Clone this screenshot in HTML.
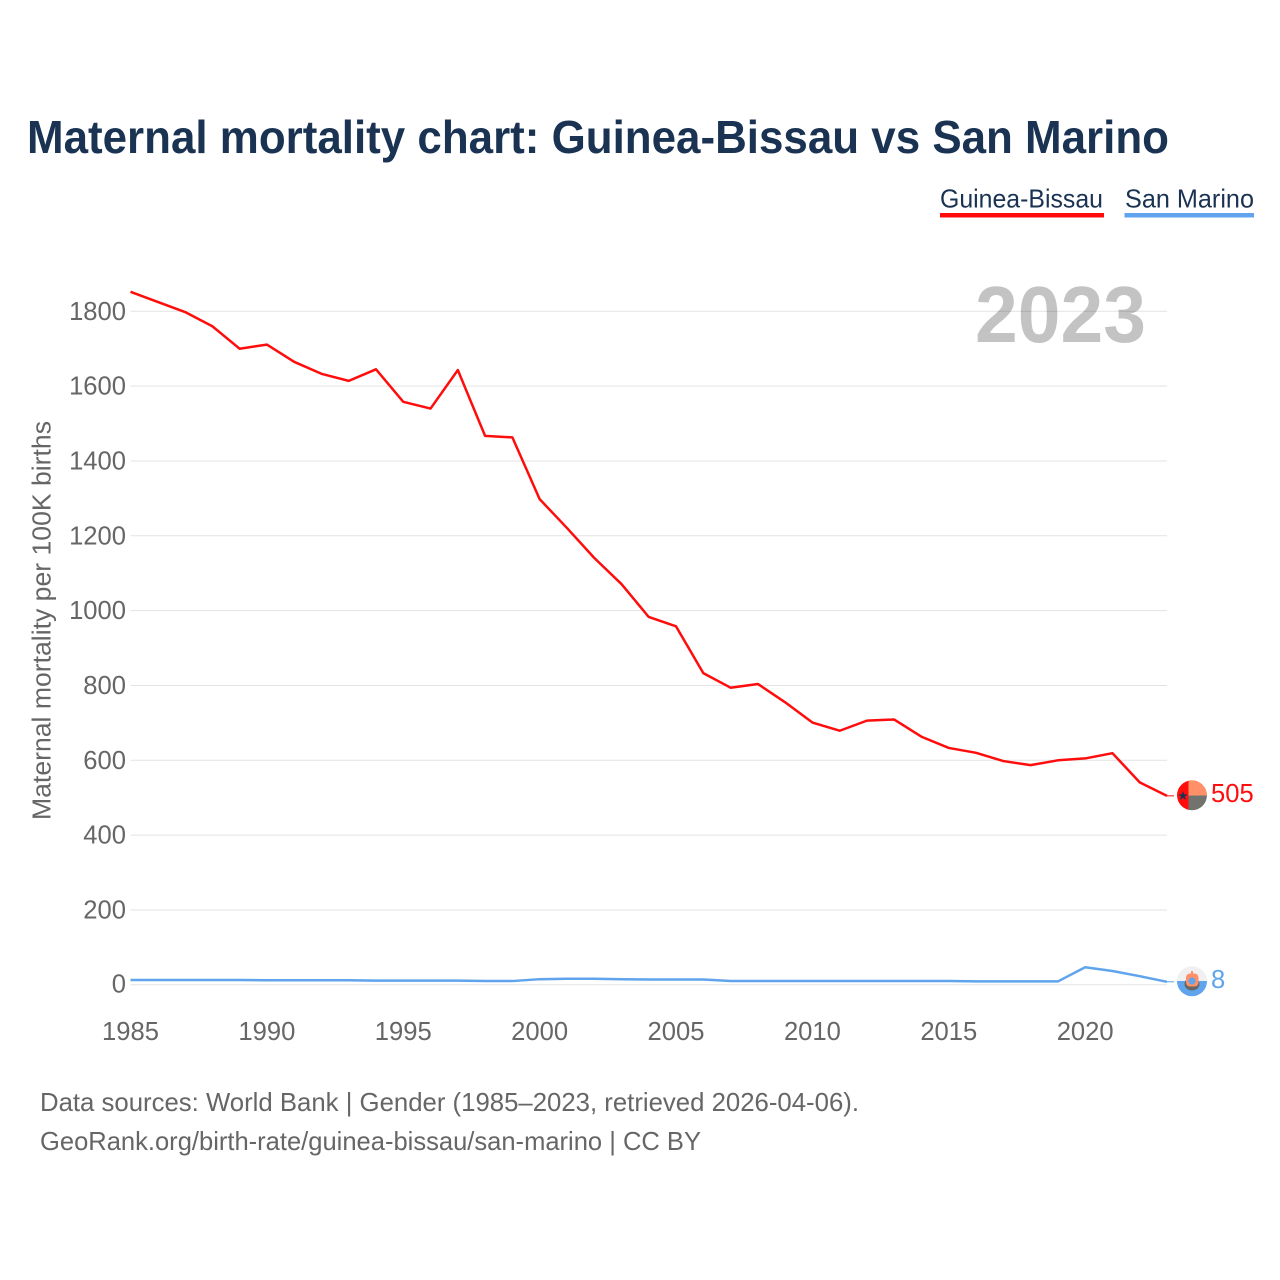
<!DOCTYPE html>
<html lang="en">
<head>
<meta charset="utf-8">
<title>Maternal mortality chart: Guinea-Bissau vs San Marino</title>
<style>
html,body{margin:0;padding:0;background:#fff;}
svg{display:block;font-family:"Liberation Sans",sans-serif;}
</style>
</head>
<body>
<svg id="chart" width="1280" height="1280" viewBox="0 0 1280 1280" xmlns="http://www.w3.org/2000/svg">
  <defs>
    <clipPath id="flag-clip-gw"><circle cx="1192" cy="795.3" r="15"/></clipPath>
    <clipPath id="flag-clip-sm"><circle cx="1192" cy="981.3" r="15"/></clipPath>
  </defs>
  <rect width="1280" height="1280" fill="#fff"/>
  <text x="27" y="153" font-size="46.5" font-weight="700" fill="#1a3353" textLength="1142" lengthAdjust="spacingAndGlyphs">Maternal mortality chart: Guinea-Bissau vs San Marino</text>

  <g>
    <g>
      <text x="940" y="207.5" font-size="26" fill="#1a3353" textLength="163" lengthAdjust="spacingAndGlyphs">Guinea-Bissau</text>
      <rect x="940" y="213" width="164" height="4.5" fill="#ff0d0d"/>
    </g>
    <g>
      <text x="1125" y="207.5" font-size="26" fill="#1a3353" textLength="129" lengthAdjust="spacingAndGlyphs">San Marino</text>
      <rect x="1124.5" y="213" width="129.5" height="4.5" fill="#5fa4ec"/>
    </g>
  </g>

  <g id="grid"></g>
  <text x="975" y="342" font-size="79.5" font-weight="700" fill="#000" fill-opacity="0.235" textLength="171" lengthAdjust="spacingAndGlyphs">2023</text>
  <g id="yticks"></g>
  <g id="xticks"></g>
  <text transform="translate(50.5 820) rotate(-90)" font-size="25.5" fill="#666" textLength="399" lengthAdjust="spacingAndGlyphs">Maternal mortality per 100K births</text>
  <g id="series"></g>

  <g clip-path="url(#flag-clip-gw)">
    <rect x="1177" y="780" width="11.5" height="31" fill="#ff0d0d"/>
    <rect x="1188.5" y="780" width="19" height="15.5" fill="#ff9068"/>
    <rect x="1188.5" y="795.5" width="19" height="15.5" fill="#72736f"/>
    <polygon points="1183,791 1184.2,794.4 1187.6,794.4 1184.9,796.5 1185.9,800 1183,797.9 1180.1,800 1181.1,796.5 1178.4,794.4 1181.8,794.4" fill="#1a3353"/>
  </g>
  <g clip-path="url(#flag-clip-sm)">
    <rect x="1177" y="966" width="30" height="15" fill="#f0f0f0"/>
    <rect x="1177" y="981" width="30" height="16" fill="#5fa4ec"/>
    <ellipse cx="1192" cy="984" rx="7.5" ry="6.5" fill="#666"/>
    <rect x="1186" y="973.5" width="12.5" height="13" rx="4" fill="#ff9068"/>
    <rect x="1191" y="971" width="2" height="4" fill="#ff9068"/>
    <circle cx="1192" cy="981" r="3.5" fill="#5fa4ec"/>
  </g>
  <text x="1211" y="802" font-size="25.6" fill="#ff0d0d">505</text>
  <text x="1211" y="988" font-size="25.6" fill="#5fa4ec">8</text>

  <g>
    <text x="40" y="1111" font-size="26" fill="#666" textLength="819" lengthAdjust="spacingAndGlyphs">Data sources: World Bank | Gender (1985–2023, retrieved 2026-04-06).</text>
    <text x="40" y="1150" font-size="26" fill="#666" textLength="661" lengthAdjust="spacingAndGlyphs">GeoRank.org/birth-rate/guinea-bissau/san-marino | CC BY</text>
  </g>
</svg>
<script>
const years = [1985,1986,1987,1988,1989,1990,1991,1992,1993,1994,1995,1996,1997,1998,1999,2000,2001,2002,2003,2004,2005,2006,2007,2008,2009,2010,2011,2012,2013,2014,2015,2016,2017,2018,2019,2020,2021,2022,2023];
const guineaBissau = [1852,1825,1798,1760,1700,1711,1665,1633,1614,1645,1558,1540,1643,1467,1463,1298,1221,1141,1071,983,958,833,794,804,755,701,679,706,709,663,633,620,598,587,600,605,619,541,505];
const sanMarino = [13,13,13,13,13,12,12,12,12,11,11,11,11,10,10,15,16,16,15,14,14,14,10,10,10,10,10,10,10,10,10,9,9,9,9,47,37,23,8];
const yTicks = [0,200,400,600,800,1000,1200,1400,1600,1800];
const xTicks = [1985,1990,1995,2000,2005,2010,2015,2020];

const SVG_NS = 'http://www.w3.org/2000/svg';
function xScale(year) { return 130.5 + (year - 1985) * (1167 - 130.5) / 38; }
function yScale(value) { return 984.8 - value * 0.37417; }
function make(tag, attrs, parentId) {
  const el = document.createElementNS(SVG_NS, tag);
  for (const k in attrs) el.setAttribute(k, attrs[k]);
  document.getElementById(parentId).appendChild(el);
  return el;
}

yTicks.forEach(function (t) {
  const line = make('line', {x1: 130.5, x2: 1167, y1: yScale(t), y2: yScale(t), stroke: '#e3e3e3', 'stroke-width': 1}, 'grid');
  
  
  const label = make('text', {x: 126, y: yScale(t) + (t === 0 ? 7.5 : 8.5), 'text-anchor': 'end', 'font-size': 25.6, fill: '#666'}, 'yticks');
  label.textContent = t;
  
  
});

xTicks.forEach(function (t) {
  const label = make('text', {x: xScale(t), y: 1040, 'text-anchor': 'middle', 'font-size': 25.6, fill: '#666'}, 'xticks');
  label.textContent = t;
  
  
});

function linePoints(values) {
  return values.map(function (v, i) { return xScale(years[i]).toFixed(2) + ',' + yScale(v).toFixed(2); }).join(' ');
}

const lineGW = make('polyline', {points: linePoints(guineaBissau), fill: 'none', stroke: '#ff0d0d', 'stroke-width': 2.5, 'stroke-linejoin': 'round'}, 'series');



const lineSM = make('polyline', {points: linePoints(sanMarino), fill: 'none', stroke: '#5fa4ec', 'stroke-width': 2.5, 'stroke-linejoin': 'round'}, 'series');



const lastIndex = years.length - 1;
const leaderGW = make('line', {x1: xScale(years[lastIndex]), x2: 1174, y1: yScale(guineaBissau[lastIndex]), y2: yScale(guineaBissau[lastIndex]), stroke: '#ff0d0d', 'stroke-width': 1}, 'series');



const leaderSM = make('line', {x1: xScale(years[lastIndex]), x2: 1174, y1: yScale(sanMarino[lastIndex]), y2: yScale(sanMarino[lastIndex]), stroke: '#5fa4ec', 'stroke-width': 1}, 'series');


</script>
</body>
</html>
